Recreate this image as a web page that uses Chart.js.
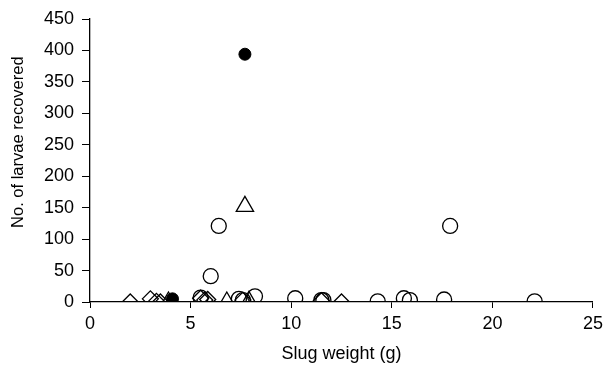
<!DOCTYPE html>
<html>
<head>
<meta charset="utf-8">
<script src="https://cdn.jsdelivr.net/npm/chart.js@4"></script>
<style>
  html, body { margin: 0; padding: 0; background: #fff; }
  #wrap { width: 608px; height: 366px; }
</style>
</head>
<body>
<div id="wrap"><canvas id="chart" width="608" height="366"></canvas></div>
<script>
// Dados (peso da lesma em g, nº de larvas)
const circleX = [5.5, 6.0, 6.4, 7.4, 7.6, 8.2, 10.2, 11.5, 11.6, 14.3, 15.6, 15.9, 17.6, 17.9, 22.1];
const circleY = [7, 41, 121, 5, 3, 9, 6, 3, 3, 1, 6, 3, 4, 121, 1];

const diamondX = [2.0, 3.0, 3.3, 3.5, 5.5, 5.7, 5.85, 7.6, 11.5, 12.5];
const diamondY = [0, 5, 1, 0, 6, 3, 4, 3, 2, 0];

const triangleX = [3.9, 6.8, 7.7, 7.9];
const triangleY = [0, 0, 152, 1];

const filledX = [4.1, 7.7];
const filledY = [5, 394];

const xTicks = [0, 5, 10, 15, 20, 25];
const yTicks = [0, 50, 100, 150, 200, 250, 300, 350, 400, 450];

function toPoints(xs, ys) {
    return xs.map((x, i) => ({ x: x, y: ys[i] }));
}

const family = 'Liberation Sans, Arial, sans-serif';
const tickFont = { family: family, size: 18 };

new Chart(document.getElementById('chart').getContext('2d'), {
    type: 'scatter',
    data: {
        datasets: [
            {
                data: toPoints(circleX, circleY),
                pointStyle: 'circle', pointRadius: 7.5,
                borderColor: '#000', backgroundColor: 'rgba(0,0,0,0)', borderWidth: 1.3
            },
            {
                data: toPoints(diamondX, diamondY),
                pointStyle: 'rectRot', pointRadius: 8,
                borderColor: '#000', backgroundColor: 'rgba(0,0,0,0)', borderWidth: 1.3
            },
            {
                data: toPoints(triangleX, triangleY),
                pointStyle: 'triangle', pointRadius: 10,
                borderColor: '#000', backgroundColor: 'rgba(0,0,0,0)', borderWidth: 1.3
            },
            {
                data: toPoints(filledX, filledY),
                pointStyle: 'circle', pointRadius: 6,
                borderColor: '#000', backgroundColor: '#000', borderWidth: 1
            }
        ]
    },
    options: {
        responsive: false,
        animation: false,
        layout: { padding: { top: 19, right: 13, left: 0, bottom: 0 } },
        plugins: { legend: { display: false }, tooltip: { enabled: false } },
        scales: {
            x: {
                type: 'linear', min: 0, max: 25,
                afterBuildTicks: s => { s.ticks = xTicks.map(v => ({ value: v })); },
                afterFit: s => { s.height = 64; },
                grid: { drawOnChartArea: false, drawTicks: true, tickLength: 6, color: '#000' },
                border: { color: '#000', width: 1.3 },
                ticks: { color: '#000', font: tickFont, padding: 5, maxRotation: 0 },
                title: { display: true, text: 'Slug weight (g)', color: '#000', font: { family: family, size: 18 }, padding: { top: 0, bottom: 1 } }
            },
            y: {
                type: 'linear', min: 0, max: 450,
                afterBuildTicks: s => { s.ticks = yTicks.map(v => ({ value: v })); },
                afterFit: s => { s.width = 90; },
                grid: { drawOnChartArea: false, drawTicks: true, tickLength: 8, color: '#000' },
                border: { color: '#000', width: 1.3 },
                ticks: { color: '#000', font: tickFont, padding: 8 },
                // espaços à esquerda deslocam o título para cima, como no original
                title: { display: true, text: '        No. of larvae recovered', color: '#000', font: { family: family, size: 16.5 }, padding: { top: 9, bottom: 0 } }
            }
        }
    }
});
</script>
</body>
</html>
